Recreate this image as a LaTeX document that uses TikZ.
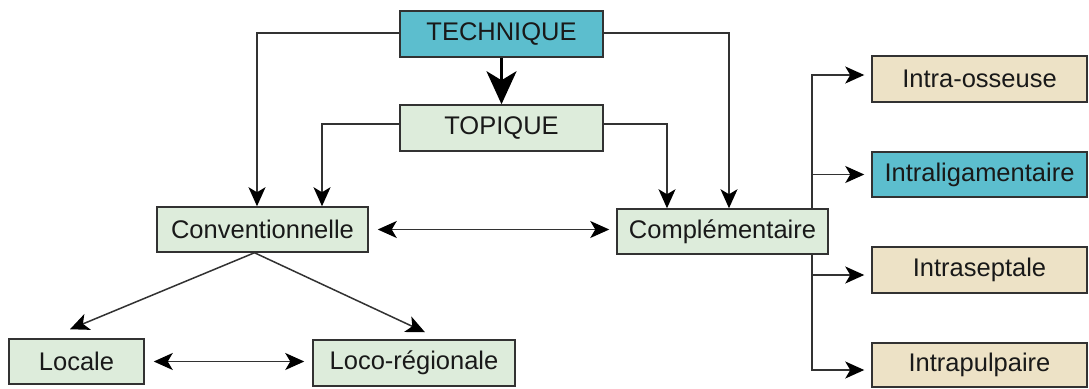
\documentclass[tikz,border=0pt]{standalone}
\usepackage{fontspec}
\setmainfont{Liberation Sans}
\usetikzlibrary{arrows.meta}
\definecolor{bxcyan}{RGB}{92,190,206}
\definecolor{bxgreen}{RGB}{221,236,219}
\definecolor{bxtan}{RGB}{237,226,198}
\definecolor{bxline}{RGB}{50,50,50}
\definecolor{txt}{RGB}{25,25,25}
\tikzset{
  box/.style={draw=bxline, line width=1.5pt, inner sep=0pt, text=txt,
    font=\fontsize{25.5}{30}\selectfont},
  cyanbox/.style={box, fill=bxcyan},
  greenbox/.style={box, fill=bxgreen},
  tanbox/.style={box, fill=bxtan},
  conn/.style={draw=bxline, line width=1.5pt},
  tip/.tip={Stealth[length=19pt,width=17pt,inset=5pt,color=black]},
  arr/.style={conn, -tip},
  darr/.style={conn, tip-tip},
  bigarr/.style={draw=black, line width=3pt, -{Stealth[length=33pt,width=30pt,inset=9pt]}}
}
\begin{document}
\begin{tikzpicture}[x=1pt,y=-1pt]
\useasboundingbox[fill=white] (0,0) rectangle (1089,388);
% nodes
\node[cyanbox, minimum width=203pt, minimum height=46pt] (tech) at (501.5,34) {TECHNIQUE};
\node[greenbox, minimum width=203pt, minimum height=46pt] (topi) at (501.5,128) {TOPIQUE};
\node[greenbox, minimum width=211pt, minimum height=45pt] (conv) at (262.5,229.5) {Conventionnelle};
\node[greenbox, minimum width=211pt, minimum height=45pt] (comp) at (722.5,231.5) {Complémentaire};
\node[greenbox, minimum width=135pt, minimum height=45pt] (loca) at (76.5,361.5) {Locale};
\node[greenbox, minimum width=202pt, minimum height=46pt] (loco) at (414,363) {Loco-régionale};
\node[tanbox, minimum width=215pt, minimum height=46pt] (osse) at (979.5,79) {Intra-osseuse};
\node[cyanbox, minimum width=215pt, minimum height=45pt] (liga) at (979.5,174.5) {Intraligamentaire};
\node[tanbox, minimum width=215pt, minimum height=46pt] (sept) at (979.5,270) {Intraseptale};
\node[tanbox, minimum width=215pt, minimum height=44pt] (pulp) at (979.5,365) {Intrapulpaire};
% connectors
\draw[bigarr] (tech.south) -- (topi.north);
\draw[arr] ([yshift=1pt]tech.west) -| ([xshift=-5.5pt]conv.north);
\draw[arr] ([yshift=4pt]topi.west) -| ([xshift=59.5pt]conv.north);
\draw[arr] ([yshift=4pt]topi.east) -| ([xshift=-55.5pt]comp.north);
\draw[arr] ([yshift=1pt]tech.east) -| ([xshift=6.5pt]comp.north);
\draw[darr, shorten <=9pt, shorten >=7pt] (conv.east) -- (conv.east -| comp.west);
\draw[arr] ([xshift=-8pt]conv.south) -- ([xshift=-6.5pt,yshift=9pt]loca.north);
\draw[arr] ([xshift=-8pt]conv.south) -- ([xshift=11pt,yshift=7pt]loco.north);
\draw[darr, shorten <=9pt, shorten >=8pt] (loca.east) -- (loca.east -| loco.west);
\draw[arr, shorten >=7pt] ([xshift=89.5pt]comp.north) |- ([yshift=4pt]osse.west);
\draw[arr, shorten >=7pt] ([xshift=89.5pt]comp.north) |- (liga.west);
\draw[arr, shorten >=7pt] ([xshift=89.5pt]comp.south) |- ([yshift=-5pt]sept.west);
\draw[arr, shorten >=7pt] ([xshift=89.5pt]comp.south) |- ([yshift=-5pt]pulp.west);
\end{tikzpicture}
\end{document}
